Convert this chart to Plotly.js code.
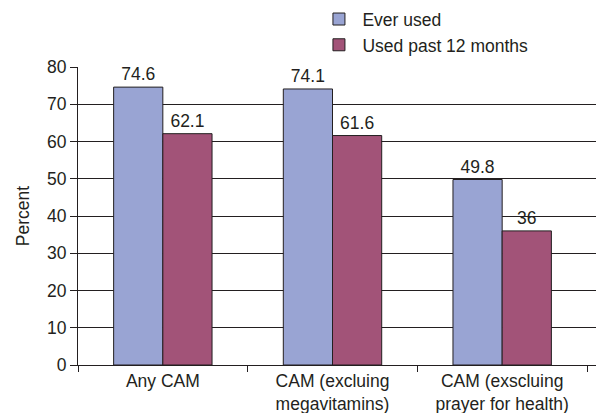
<!DOCTYPE html>
<html><head><meta charset="utf-8">
<script src="https://cdn.plot.ly/plotly-3.0.1.min.js"></script>
<style>html,body{margin:0;padding:0;background:#fff}</style>
</head><body><div id="chart" style="width:596px;height:413px"></div>
<script>
const categories = ["Any CAM", "CAM (excluing<br>megavitamins)", "CAM (exscluing<br>prayer for health)"];
const everUsed = [74.6, 74.1, 49.8];
const past12 = [62.1, 61.6, 36];
const seriesNames = ["Ever used", "Used past 12 months"];
const yTicks = [0, 10, 20, 30, 40, 50, 60, 70, 80];

const font = {family: "Liberation Sans, Arial, sans-serif", size: 17.5, color: "#231f20"};
const traces = [
  {type: "bar", x: categories, y: everUsed, name: seriesNames[0],
   marker: {color: "#99a4d3", line: {color: "#231f20", width: 1}},
   text: everUsed.map(String), textposition: "outside", cliponaxis: false,
   textfont: font},
  {type: "bar", x: categories, y: past12, name: seriesNames[1],
   marker: {color: "#a25378", line: {color: "#231f20", width: 1}},
   text: past12.map(String), textposition: "outside", cliponaxis: false,
   textfont: font}
];
const layout = {
  width: 596, height: 413,
  margin: {l: 78, r: 0, t: 67, b: 48},
  font: font,
  paper_bgcolor: "#fff", plot_bgcolor: "#fff",
  barmode: "group", bargap: 0.42, bargroupgap: 0,
  showlegend: true,
  legend: {x: 0.4584, y: 1.221, xanchor: "left", yanchor: "top", font: font,
           bgcolor: "rgba(0,0,0,0)", tracegroupgap: 0, itemwidth: 37},
  xaxis: {type: "category", range: [-0.5, 2.553], showline: true, linecolor: "#231f20", linewidth: 1,
          ticks: "outside", tickson: "boundaries", ticklen: 6, tickcolor: "#231f20",
          showgrid: false, tickfont: font},
  yaxis: {range: [0, 80], tickvals: yTicks, showline: true, linecolor: "#231f20",
          linewidth: 1, ticks: "outside", ticklen: 7, tickcolor: "#231f20",
          showgrid: true, gridcolor: "#231f20", gridwidth: 1, zeroline: false,
          tickfont: font, title: {text: "Percent", font: font, standoff: 12}}
};
Plotly.newPlot("chart", traces, layout, {displayModeBar: false, staticPlot: true});
</script></body></html>
